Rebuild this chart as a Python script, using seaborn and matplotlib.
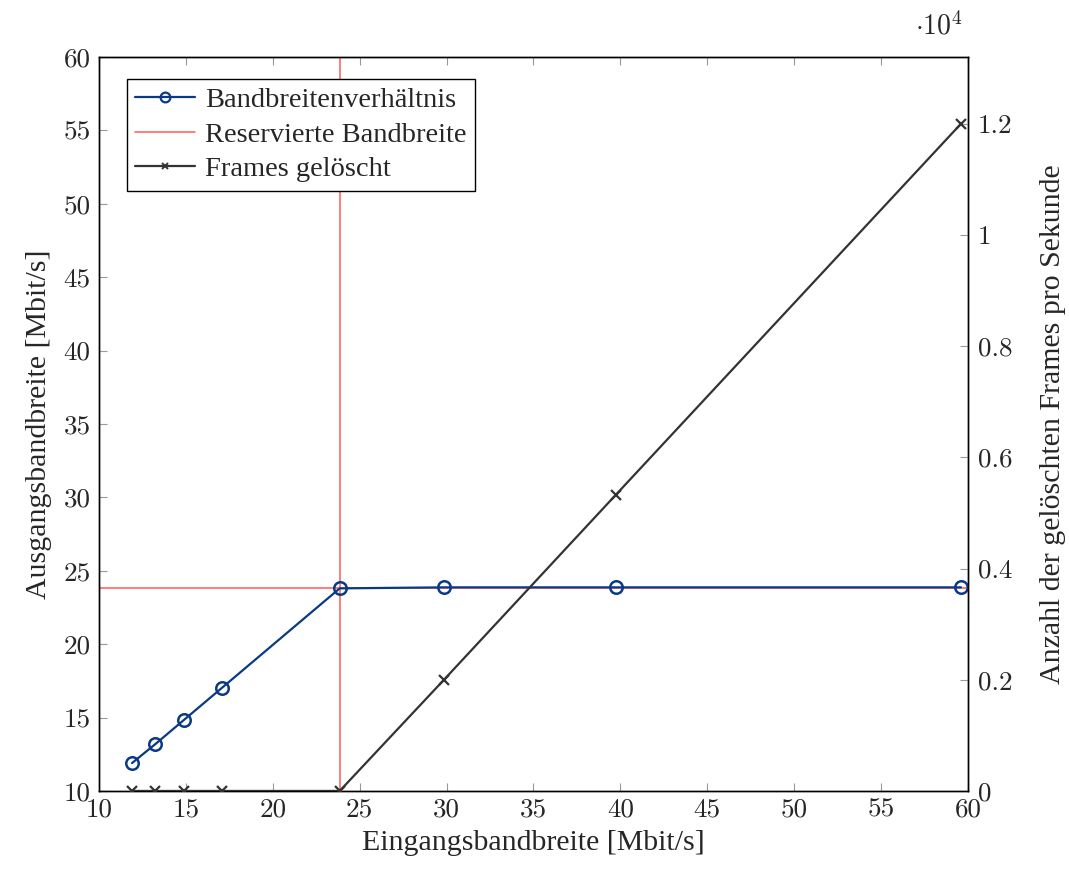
import matplotlib
matplotlib.use("Agg")
import matplotlib.pyplot as plt
from matplotlib.lines import Line2D
import seaborn as sns
import pandas as pd

# Measured throughput at the shaper
input_bw = [11.9, 13.25, 14.9, 17.05, 23.85, 29.85, 39.75, 59.6]   # Mbit/s
output_bw = [11.9, 13.2, 14.85, 17.0, 23.8, 23.87, 23.87, 23.87]   # Mbit/s
frames_dropped = [0, 0, 0, 0, 0, 2000, 5330, 12000]                # frames per second
reserved_bw = 23.8                                                # Mbit/s
reserved_in = 23.85                                               # Mbit/s

x_ticks = [10, 15, 20, 25, 30, 35, 40, 45, 50, 55, 60]
y_ticks = [10, 15, 20, 25, 30, 35, 40, 45, 50, 55, 60]
y2_ticks = [0, 2000, 4000, 6000, 8000, 10000, 12000]

df = pd.DataFrame({"ein": input_bw, "aus": output_bw, "frames": frames_dropped})

sns.set_theme(style="white")
plt.rcParams["font.family"] = ["Liberation Serif", "DejaVu Serif"]

BLUE = "#0a3a86"
RED = "#ff5a5a"
GREY = "#333333"
TICKFONT = dict(family="cmr10", size=19.5)
LABELSIZE = 21.5

fig = plt.figure(figsize=(10.69, 8.71), dpi=100)
ax = fig.add_axes([0.0926, 0.0919, 0.8129, 0.8427])
ax2 = ax.twinx()

ax.axhline(reserved_bw, color=RED, lw=1.1, zorder=1)
ax.axvline(reserved_in, color=RED, lw=1.1, zorder=1)

sns.lineplot(data=df, x="ein", y="aus", ax=ax, color=BLUE, lw=1.6,
             marker="o", markersize=9, markerfacecolor="none",
             markeredgecolor=BLUE, markeredgewidth=1.8, zorder=3)
sns.lineplot(data=df, x="ein", y="frames", ax=ax2, color=GREY, lw=1.6,
             marker="x", markersize=7, markeredgecolor=GREY,
             markeredgewidth=1.6, zorder=3)

ax.set_xlim(10, 60)
ax.set_ylim(10, 60)
ax2.set_ylim(0, 13200)

ax.set_xticks(x_ticks)
ax.set_yticks(y_ticks)
ax.set_xticklabels([str(t) for t in x_ticks], fontdict=TICKFONT)
ax.set_yticklabels([str(t) for t in y_ticks], fontdict=TICKFONT)
ax2.set_yticks(y2_ticks)
ax2.set_yticklabels(["0"] + [f"{t/1e4:g}" for t in y2_ticks[1:]], fontdict=TICKFONT)

ax.tick_params(axis="x", direction="in", length=6, width=0.8, color="#999999",
               top=True, bottom=True, pad=5)
ax.tick_params(axis="y", direction="in", length=6, width=0.8, color="#999999",
               left=True, right=False, pad=6)
ax2.tick_params(axis="y", direction="in", length=6, width=0.8, color="#999999",
                right=True, left=False, pad=7)

for a in (ax, ax2):
    for s in a.spines.values():
        s.set_color("black")
        s.set_linewidth(1.0)

ax.set_xlabel("Eingangsbandbreite [Mbit/s]", fontsize=LABELSIZE, labelpad=6)
ax.set_ylabel("Ausgangsbandbreite [Mbit/s]", fontsize=LABELSIZE, labelpad=8)
ax2.set_ylabel("Anzahl der gelöschten Frames pro Sekunde", fontsize=LABELSIZE,
               labelpad=20)
ax.grid(False)
ax2.grid(False)

ax2.text(0.967, 1.022, r"$\cdot 10^{4}$", transform=ax2.transAxes, ha="center",
         va="bottom", fontsize=20, math_fontfamily="cm")

handles = [
    Line2D([], [], color=BLUE, lw=1.6, marker="o", markersize=7,
           markerfacecolor="none", markeredgewidth=1.6),
    Line2D([], [], color=RED, lw=1.1),
    Line2D([], [], color=GREY, lw=1.6, marker="x", markersize=5,
           markeredgewidth=1.4),
]
labels = ["Bandbreitenverhältnis", "Reservierte Bandbreite", "Frames gelöscht"]
leg = ax2.legend(handles, labels, loc="upper left", bbox_to_anchor=(0.032, 0.97),
                 fontsize=20.5, frameon=True, fancybox=False, framealpha=1,
                 edgecolor="black", borderpad=0.3, handlelength=2.1,
                 handletextpad=0.35, labelspacing=0.3, borderaxespad=0)
leg.get_frame().set_linewidth(1.0)

fig.savefig("out.png", dpi=100)
